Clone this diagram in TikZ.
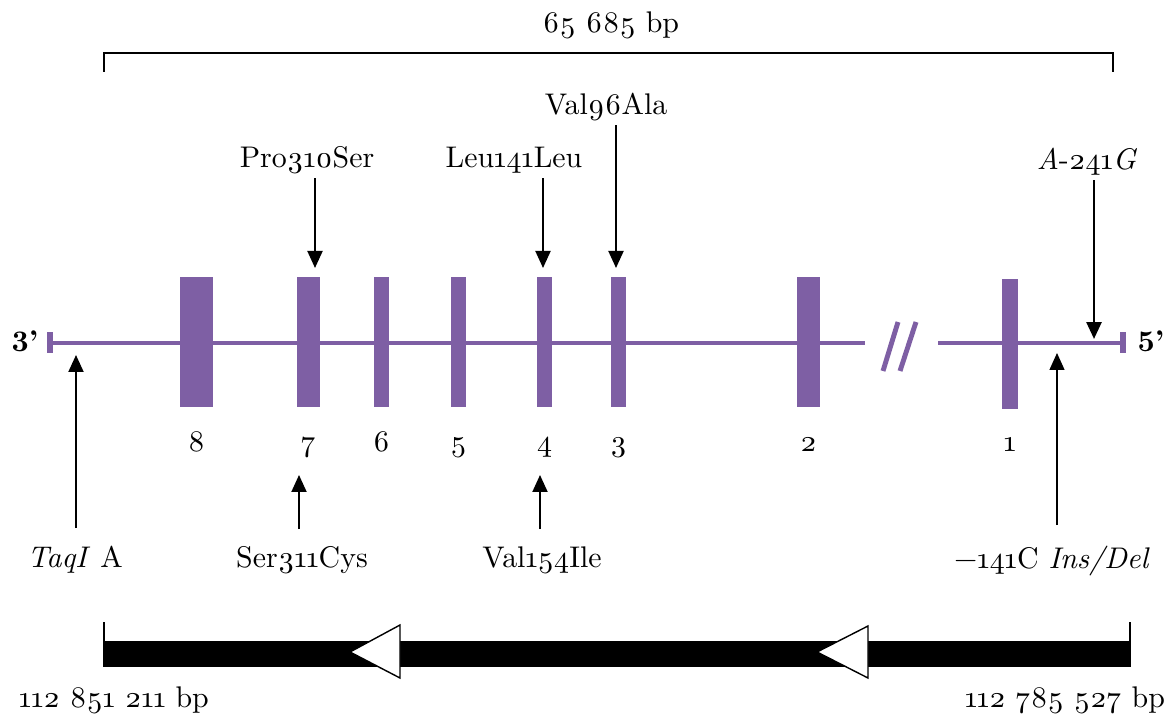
\documentclass[tikz,border=0pt]{standalone}
\usepackage{fontspec}
\setmainfont{lmroman10}[Extension=.otf, UprightFont=*-regular, BoldFont=*-bold, ItalicFont=*-italic, BoldItalicFont=*-bolditalic, Numbers=OldStyle]
\definecolor{exonpurple}{RGB}{126, 95, 164}
\usetikzlibrary{arrows.meta, positioning}

\begin{document}
\begin{tikzpicture}[
  x=0.02cm, y=-0.02cm,
  font=\fontsize{17}{20}\selectfont,
  arrow/.style={-{Triangle[length=0.34cm, width=0.3cm]}, line width=1.1pt},
  exon/.style={fill=exonpurple, inner sep=0pt, minimum height=2.6cm},
  gene/.style={exonpurple, line width=2.3pt},
  lab/.style={anchor=base, inner sep=2pt, text height=12pt, text depth=3.5pt}
]
  \useasboundingbox (0,0) rectangle (1166,722);

  % Span of the gene
  \draw[line width=1.1pt] (104,72) -- (104,53) -- (1113,53) -- (1113,72);
  \node[lab] (span) at (611,33) {65 685 bp};

  % Gene line with its break
  \node[fill=exonpurple, inner sep=0pt, minimum width=0.13cm, minimum height=0.42cm] (capL) at (50,343) {};
  \node[fill=exonpurple, inner sep=0pt, minimum width=0.13cm, minimum height=0.42cm] (capR) at (1123,343) {};
  \coordinate (brkL) at (865,343);
  \coordinate (brkR) at (938,343);
  \draw[gene] (capL.center) -- (brkL);
  \draw[gene] (brkR) -- (capR.center);
  \draw[exonpurple, line width=2.8pt] (883,371) -- (898,322);
  \draw[exonpurple, line width=2.8pt] (900,371) -- (916,322);
  \node[lab] (end3) at (25,352) {{\bfseries\addfontfeatures{Numbers=Lining}3’}};
  \node[lab] (end5) at (1151,352) {{\bfseries\addfontfeatures{Numbers=Lining}5’}};

  % Exons
  \node[exon, minimum width=0.66cm] (ex8) at (196.5,342) {};
  \node[exon, minimum width=0.46cm] (ex7) at (308.5,342) {};
  \node[exon, minimum width=0.3cm] (ex6) at (381.5,342) {};
  \node[exon, minimum width=0.3cm] (ex5) at (458.5,342) {};
  \node[exon, minimum width=0.3cm] (ex4) at (544.5,342) {};
  \node[exon, minimum width=0.3cm] (ex3) at (618.5,342) {};
  \node[exon, minimum width=0.46cm] (ex2) at (808.5,342) {};
  \node[exon, minimum width=0.32cm] (ex1) at (1010,344) {};

  \node[lab, below=0.38cm of ex8] (num8) {8};
  \node[lab, below=0.38cm of ex7] (num7) {7};
  \node[lab, below=0.38cm of ex6] (num6) {6};
  \node[lab, below=0.38cm of ex5] (num5) {5};
  \node[lab, below=0.38cm of ex4] (num4) {4};
  \node[lab, below=0.38cm of ex3] (num3) {3};
  \node[lab, below=0.38cm of ex2] (num2) {2};
  \node[lab, below=0.34cm of ex1] (num1) {1};

  % Variants above the gene
  \node[lab] (lbPro) at (307,168) {Pro310Ser};
  \node[lab] (lbLeu) at (514,168) {Leu141Leu};
  \node[lab] (lbVal96) at (606,115) {Val96Ala};
  \node[lab] (lbA241) at (1087,170) {\textit{A}-241\textit{G}};
  \coordinate (pPro) at (315,268);
  \coordinate (pLeu) at (543,268);
  \coordinate (pVal96) at (616,268);
  \coordinate (pA241) at (1094,339);
  \draw[arrow] (lbPro.south -| pPro) -- (pPro);
  \draw[arrow] (lbLeu.south -| pLeu) -- (pLeu);
  \draw[arrow] (lbVal96.south -| pVal96) -- (pVal96);
  \draw[arrow, line width=1.5pt] (lbA241.south -| pA241) -- (pA241);

  % Variants below the gene
  \node[lab] (lbTaq) at (75,567) {\textit{TaqI} A};
  \node[lab] (lbSer) at (302,567) {Ser311Cys};
  \node[lab] (lbVal154) at (542,567) {Val154Ile};
  \node[lab] (lbIns) at (1052,568) {−141C \textit{Ins/Del}};
  \coordinate (pTaq) at (76,355);
  \coordinate (pSer) at (299,475);
  \coordinate (pVal154) at (540,475);
  \coordinate (pIns) at (1057,353);
  \draw[arrow, shorten <=0.28cm] (lbTaq.north -| pTaq) -- (pTaq);
  \draw[arrow, shorten <=0.26cm] (lbSer.north -| pSer) -- (pSer);
  \draw[arrow, shorten <=0.26cm] (lbVal154.north -| pVal154) -- (pVal154);
  \draw[arrow, line width=0.8pt, shorten <=0.36cm] (lbIns.north -| pIns) -- (pIns);

  % Chromosome position
  \fill (104,641) rectangle (1130,667);
  \draw[line width=0.8pt] (104,622) -- (104,667);
  \draw[line width=0.8pt] (1130,622) -- (1130,667);
  \draw[fill=white, line width=0.8pt] (400,625) -- (350,652) -- (400,678) -- cycle;
  \draw[fill=white, line width=0.8pt] (868,626) -- (817,652) -- (868,678) -- cycle;
  \node[lab] (startbp) at (114,707) {112 851 211 bp};
  \node[lab] (endbp) at (1065,707) {112 785 527 bp};
\end{tikzpicture}
\end{document}
